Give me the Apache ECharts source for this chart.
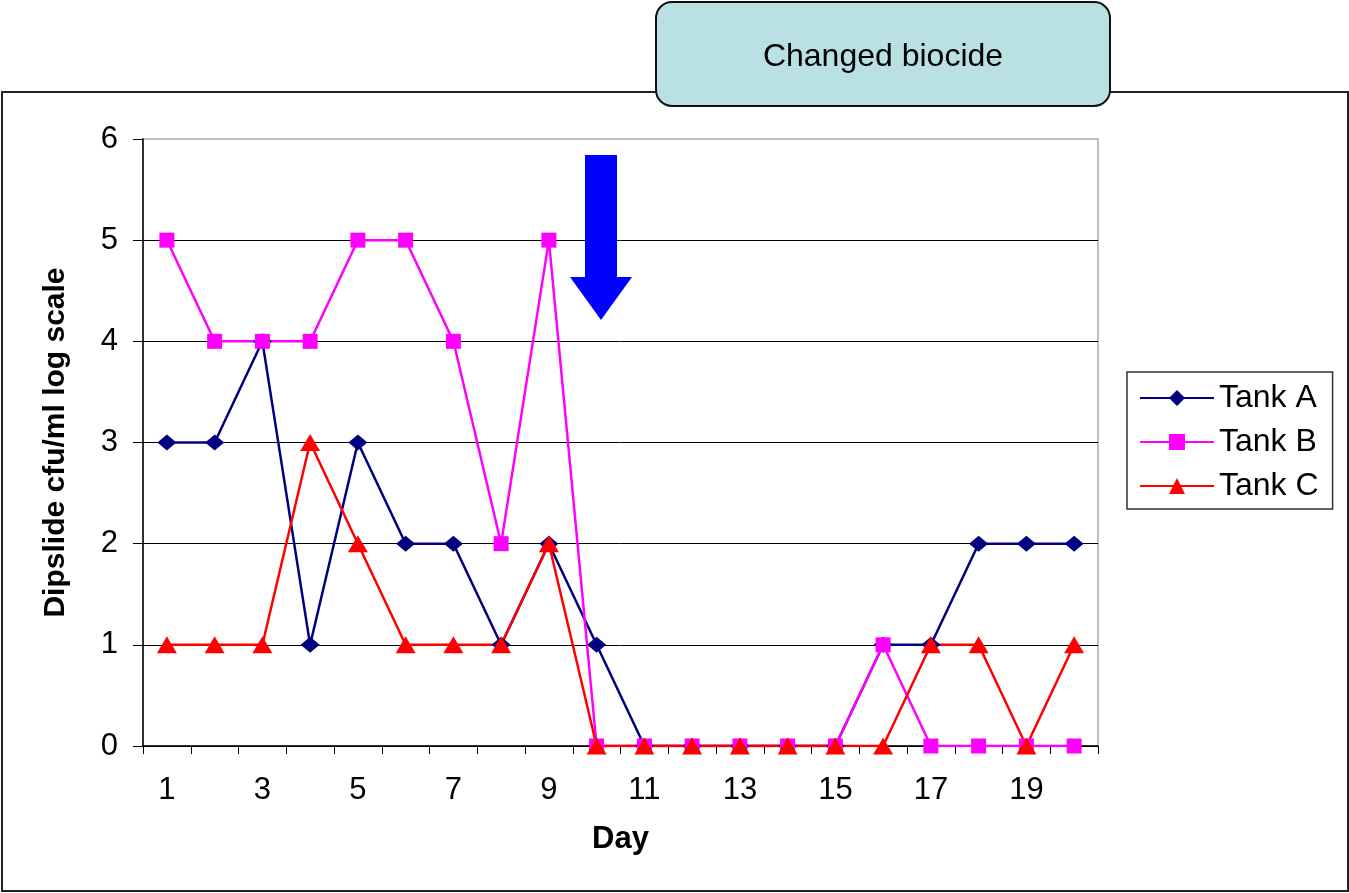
<!DOCTYPE html>
<html>
<head>
<meta charset="utf-8">
<script src="https://cdn.jsdelivr.net/npm/echarts@6/dist/echarts.min.js"></script>
<style>
  html, body { margin: 0; padding: 0; background: #fff; }
  #main { width: 1349px; height: 893px; }
</style>
</head>
<body>
<div id="main"></div>
<script>
var days = ['1','2','3','4','5','6','7','8','9','10','11','12','13','14','15','16','17','18','19','20'];
var tankA = [3, 3, 4, 1, 3, 2, 2, 1, 2, 1, 0, 0, 0, 0, 0, 1, 1, 2, 2, 2];
var tankB = [5, 4, 4, 4, 5, 5, 4, 2, 5, 0, 0, 0, 0, 0, 0, 1, 0, 0, 0, 0];
var tankC = [1, 1, 1, 3, 2, 1, 1, 1, 2, 0, 0, 0, 0, 0, 0, 0, 1, 1, 0, 1];
var yTicks = [0, 1, 2, 3, 4, 5, 6];

var font = 'Arial, "Liberation Sans", sans-serif';
var chart = echarts.init(document.getElementById('main'));

var option = {
  backgroundColor: '#fff',
  animation: false,
  textStyle: { fontFamily: font },
  grid: {
    left: 143, top: 139, right: 251, bottom: 147,
    show: true, borderColor: '#c0c0c0', borderWidth: 2, backgroundColor: 'transparent'
  },
  legend: {
    orient: 'vertical',
    left: 1127, top: 372,
    padding: [10, 14, 7, 12],
    itemWidth: 74, itemHeight: 20, itemGap: 12,
    borderColor: '#333', borderWidth: 1.5,
    textStyle: { fontSize: 32, color: '#000', fontFamily: font },
    data: ['Tank A', 'Tank B', 'Tank C']
  },
  xAxis: {
    type: 'category',
    data: days,
    name: 'Day',
    nameLocation: 'middle',
    nameGap: 78,
    nameTextStyle: { fontSize: 31, fontWeight: 'bold', color: '#000', fontFamily: font },
    axisLine: { lineStyle: { color: '#000', width: 1.5 } },
    axisTick: { show: true, interval: 0, length: 8, lineStyle: { color: '#000' } },
    axisLabel: { interval: 1, fontSize: 31, color: '#000', margin: 29, fontFamily: font },
    splitLine: { show: false }
  },
  yAxis: {
    type: 'value',
    min: yTicks[0], max: yTicks[yTicks.length - 1], interval: 1,
    name: 'Dipslide cfu/ml log scale',
    nameLocation: 'middle',
    nameGap: 72,
    nameTextStyle: { fontSize: 30, fontWeight: 'bold', color: '#000', fontFamily: font },
    axisLine: { show: true, lineStyle: { color: '#000', width: 1.5 } },
    axisTick: { show: true, length: 10, lineStyle: { color: '#000' } },
    axisLabel: { fontSize: 31, color: '#000', margin: 25, fontFamily: font },
    splitLine: {
      show: true,
      lineStyle: { color: ['#000', '#000', '#000', '#000', '#000', '#000', '#c0c0c0'], width: 1 }
    }
  },
  series: [
    {
      name: 'Tank A', type: 'line', data: tankA,
      symbol: 'diamond', symbolSize: [19, 16],
      lineStyle: { color: '#000080', width: 2.5 },
      itemStyle: { color: '#000080' }
    },
    {
      name: 'Tank B', type: 'line', data: tankB,
      symbol: 'rect', symbolSize: 15,
      lineStyle: { color: '#ff00ff', width: 2.5 },
      itemStyle: { color: '#ff00ff' }
    },
    {
      name: 'Tank C', type: 'line', data: tankC,
      symbol: 'triangle', symbolSize: [20, 17],
      lineStyle: { color: '#ff0000', width: 2.5 },
      itemStyle: { color: '#ff0000' }
    }
  ],
  graphic: [
    {
      type: 'rect', z: -10, silent: true,
      shape: { x: 2, y: 92, width: 1346, height: 799 },
      style: { fill: 'transparent', stroke: '#222', lineWidth: 2 }
    },
    {
      type: 'rect', z: 100,
      shape: { x: 656, y: 2, width: 454, height: 104, r: 16 },
      style: { fill: '#b9e0e3', stroke: '#111', lineWidth: 2 }
    },
    {
      type: 'text', z: 101,
      x: 883, y: 57,
      style: {
        text: 'Changed biocide', fontSize: 32, fontFamily: font, fill: '#000',
        align: 'center', verticalAlign: 'middle'
      }
    },
    {
      type: 'polygon', z: 100,
      shape: { points: [[585, 155], [617, 155], [617, 277], [632, 277], [601, 320], [570, 277], [585, 277]] },
      style: { fill: '#0000ff' }
    }
  ]
};

chart.setOption(option);
</script>
</body>
</html>
